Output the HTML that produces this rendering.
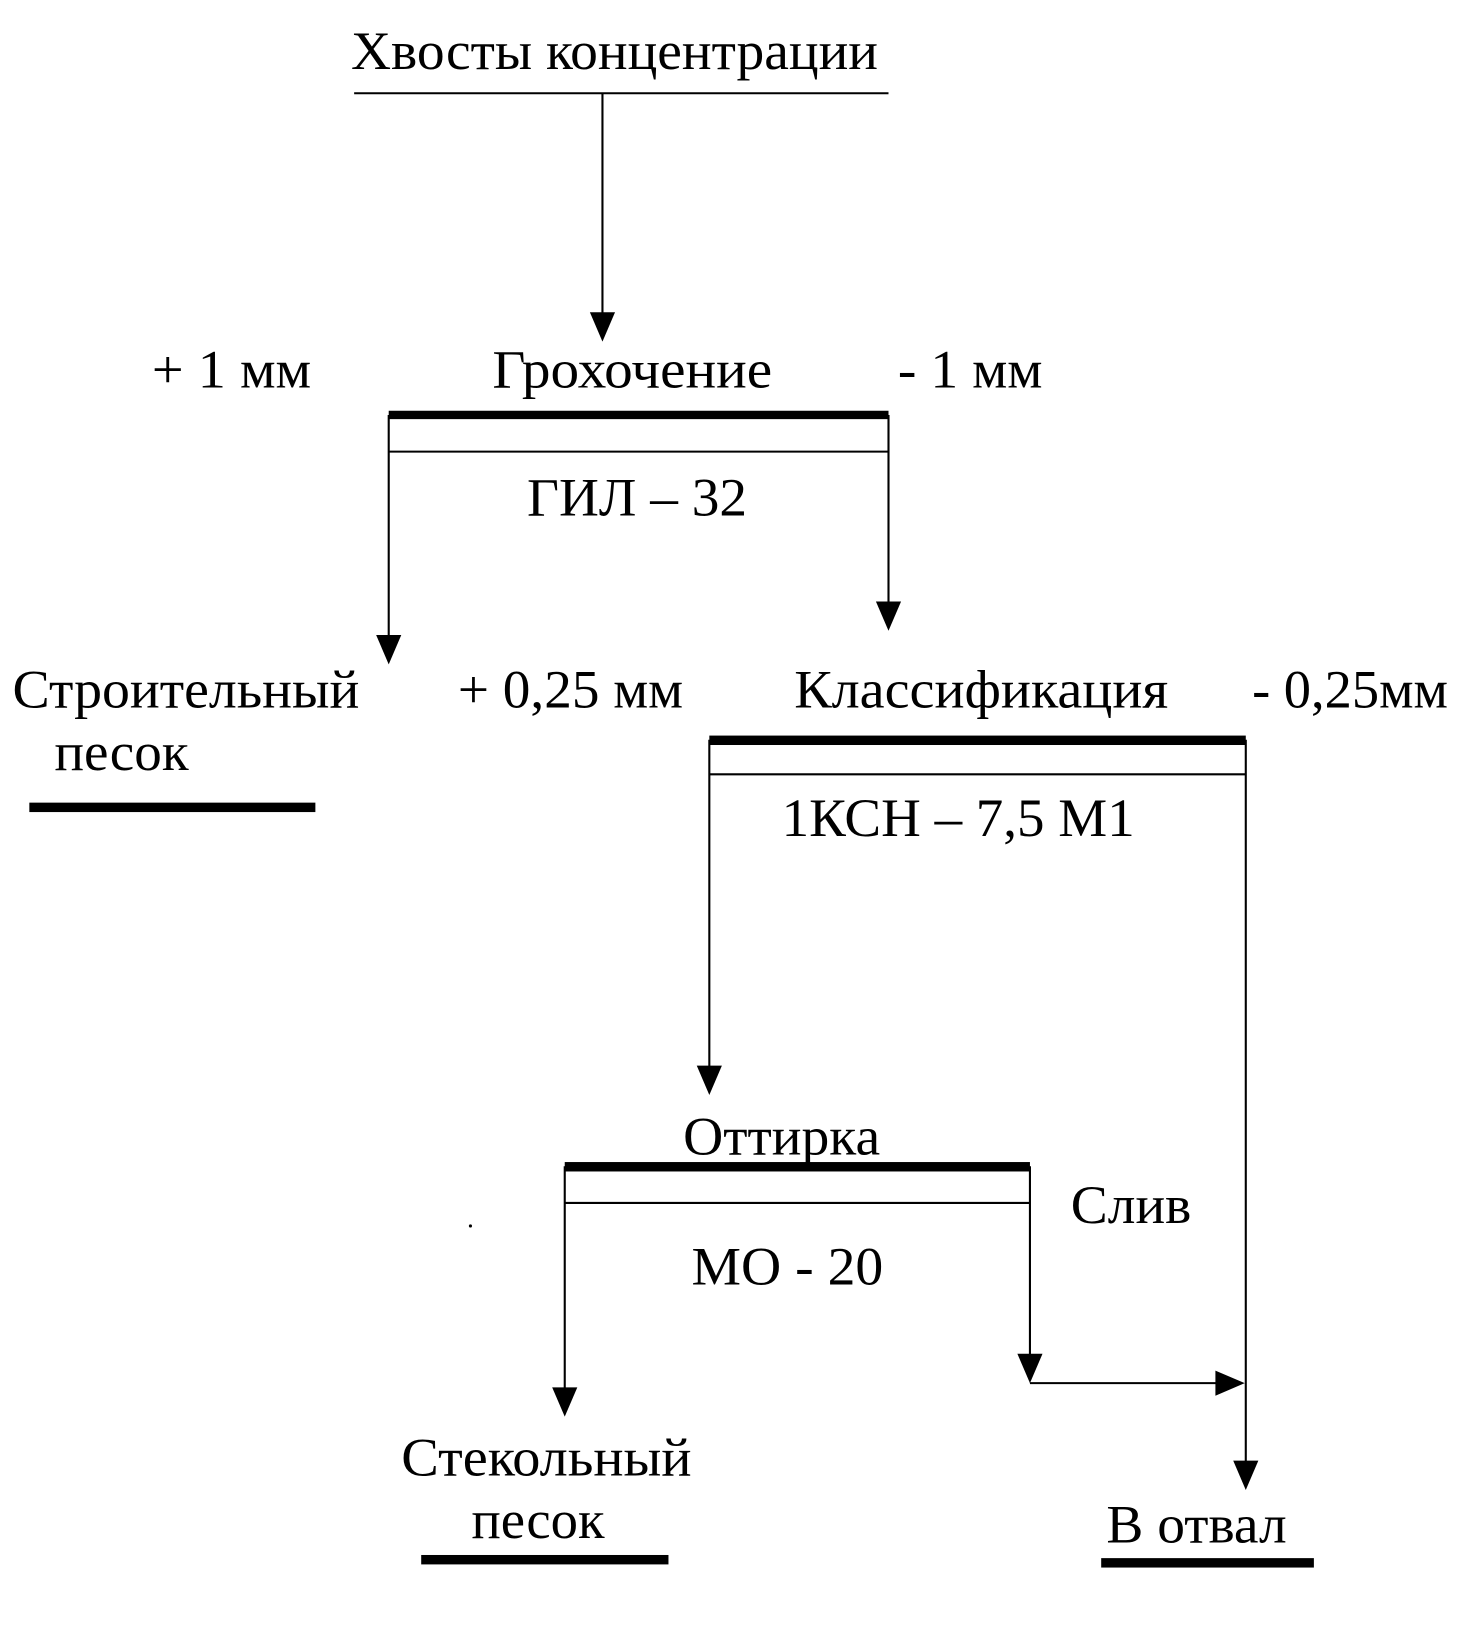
<!DOCTYPE html>
<html><head><meta charset="utf-8"><style>html,body{margin:0;padding:0;background:#fff}svg{display:block}</style></head>
<body>
<svg width="1470" height="1643" viewBox="0 0 1403 1568" preserveAspectRatio="none" xmlns="http://www.w3.org/2000/svg" font-family="'Liberation Serif', 'Noto Serif CJK SC', serif" font-size="52" fill="#000">
<g stroke="#000" stroke-width="2" fill="none">
<line x1="338" y1="89" x2="848" y2="89"/>
<line x1="575" y1="89" x2="575" y2="300"/>
<line x1="371" y1="431" x2="848" y2="431"/>
<line x1="371" y1="396" x2="371" y2="608"/>
<line x1="848" y1="396" x2="848" y2="576"/>
<line x1="677" y1="739" x2="1189" y2="739"/>
<line x1="677" y1="706" x2="677" y2="1019"/>
<line x1="1189" y1="706" x2="1189" y2="1396"/>
<line x1="539" y1="1148" x2="983" y2="1148"/>
<line x1="539" y1="1113" x2="539" y2="1326"/>
<line x1="983" y1="1113" x2="983" y2="1294"/>
<line x1="983" y1="1320" x2="1162" y2="1320"/>
</g>
<rect x="371" y="392" width="477" height="8"/>
<rect x="28" y="766" width="273" height="9"/>
<rect x="677" y="702" width="512" height="9"/>
<rect x="539" y="1109" width="444" height="9"/>
<rect x="402" y="1484" width="236" height="9"/>
<rect x="1051" y="1487" width="203" height="9"/>
<polygon points="563,298 587,298 575,326"/>
<polygon points="359,606 383,606 371,634"/>
<polygon points="836,574 860,574 848,602"/>
<polygon points="665,1017 689,1017 677,1045"/>
<polygon points="1177,1394 1201,1394 1189,1422"/>
<polygon points="527,1324 551,1324 539,1352"/>
<polygon points="971,1292 995,1292 983,1320"/>
<polygon points="1160,1308 1160,1332 1188,1320"/>
<circle cx="449" cy="1170" r="1.5"/>
<text x="335" y="66" textLength="503" lengthAdjust="spacingAndGlyphs">Хвосты концентрации</text>
<text x="145" y="370" textLength="152" lengthAdjust="spacingAndGlyphs">+ 1 мм</text>
<text x="470" y="370" textLength="267" lengthAdjust="spacingAndGlyphs">Грохочение</text>
<text x="857" y="370" textLength="138" lengthAdjust="spacingAndGlyphs">- 1 мм</text>
<text x="503" y="492" textLength="210" lengthAdjust="spacingAndGlyphs">ГИЛ – 32</text>
<text x="12" y="675" textLength="331" lengthAdjust="spacingAndGlyphs">Строительный</text>
<text x="52" y="735" textLength="128" lengthAdjust="spacingAndGlyphs">песок</text>
<text x="437" y="675" textLength="215" lengthAdjust="spacingAndGlyphs">+ 0,25 мм</text>
<text x="758" y="675" textLength="357" lengthAdjust="spacingAndGlyphs">Классификация</text>
<text x="1195" y="675" textLength="187" lengthAdjust="spacingAndGlyphs">- 0,25мм</text>
<text x="746" y="798" textLength="337" lengthAdjust="spacingAndGlyphs">1КСН – 7,5 М1</text>
<text x="652" y="1102" textLength="188" lengthAdjust="spacingAndGlyphs">Оттирка</text>
<text x="1022" y="1167" textLength="115" lengthAdjust="spacingAndGlyphs">Слив</text>
<text x="660" y="1226" textLength="183" lengthAdjust="spacingAndGlyphs">МО - 20</text>
<text x="383" y="1408" textLength="277" lengthAdjust="spacingAndGlyphs">Стекольный</text>
<text x="450" y="1468" textLength="127" lengthAdjust="spacingAndGlyphs">песок</text>
<text x="1056" y="1472" textLength="172" lengthAdjust="spacingAndGlyphs">В отвал</text>
</svg>
</body></html>
